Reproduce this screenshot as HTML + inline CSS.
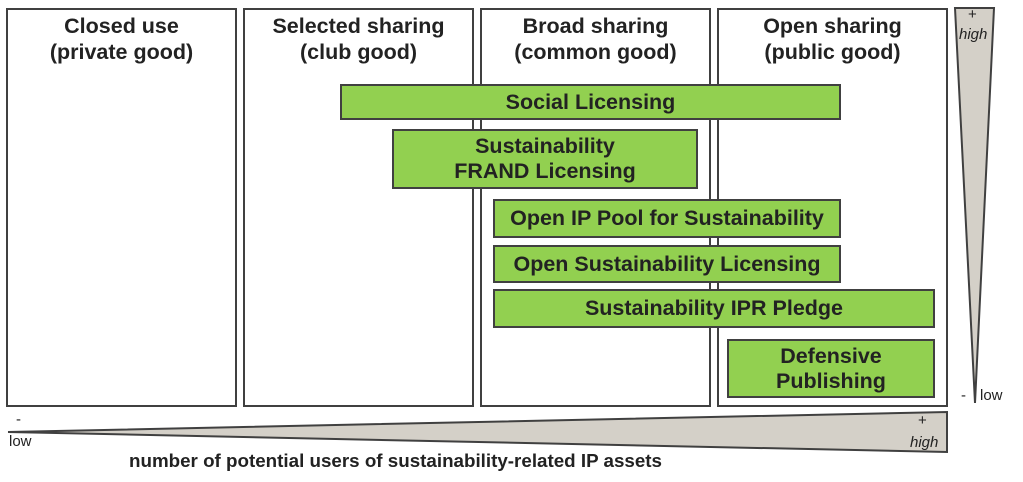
<!DOCTYPE html>
<html><head><style>
body{margin:0;width:1023px;height:482px;background:#fff;position:relative;overflow:hidden;font-family:"Liberation Sans",sans-serif;}
.col{position:absolute;top:8px;height:399px;border:2px solid #404040;box-sizing:border-box;text-align:center;font-weight:bold;font-size:21.5px;line-height:26px;color:#222;padding-top:3px;}
.g{position:absolute;background:#92d050;border:2px solid #404040;box-sizing:border-box;display:flex;align-items:center;justify-content:center;text-align:center;font-weight:bold;font-size:21.5px;line-height:25px;color:#222;}
.t{position:absolute;font-size:15px;color:#222;}
</style></head><body>
<div class="col" style="left:6px;width:231px">Closed use<br>(private good)</div>
<div class="col" style="left:243px;width:231px">Selected sharing<br>(club good)</div>
<div class="col" style="left:480px;width:231px">Broad sharing<br>(common good)</div>
<div class="col" style="left:717px;width:231px">Open sharing<br>(public good)</div>
<div class="g" style="left:340px;top:84px;width:501px;height:36px">Social Licensing</div>
<div class="g" style="left:392px;top:129px;width:306px;height:60px">Sustainability<br>FRAND Licensing</div>
<div class="g" style="left:493px;top:199px;width:348px;height:39px">Open IP Pool for Sustainability</div>
<div class="g" style="left:493px;top:245px;width:348px;height:38px">Open Sustainability Licensing</div>
<div class="g" style="left:493px;top:289px;width:442px;height:39px">Sustainability IPR Pledge</div>
<div class="g" style="left:727px;top:339px;width:208px;height:59px">Defensive<br>Publishing</div>
<svg style="position:absolute;left:0;top:0" width="1023" height="482">
<polygon points="955,8 994,8 975,403" fill="#d4d0c8" stroke="#404040" stroke-width="2"/>
<polygon points="8,432 947,412 947,452" fill="#d4d0c8" stroke="#404040" stroke-width="2"/>
</svg>
<div class="t" style="left:968px;top:6px">+</div>
<div class="t" style="left:959px;top:26px;font-style:italic">high</div>
<div class="t" style="left:961px;top:387px">-</div>
<div class="t" style="left:980px;top:387px">low</div>
<div class="t" style="left:16px;top:411px">-</div>
<div class="t" style="left:9px;top:433px">low</div>
<div class="t" style="left:918px;top:412px">+</div>
<div class="t" style="left:910px;top:434px;font-style:italic">high</div>
<div style="position:absolute;left:129px;top:450px;font-weight:bold;font-size:18.8px;color:#222">number of potential users of sustainability-related IP assets</div>
</body></html>
